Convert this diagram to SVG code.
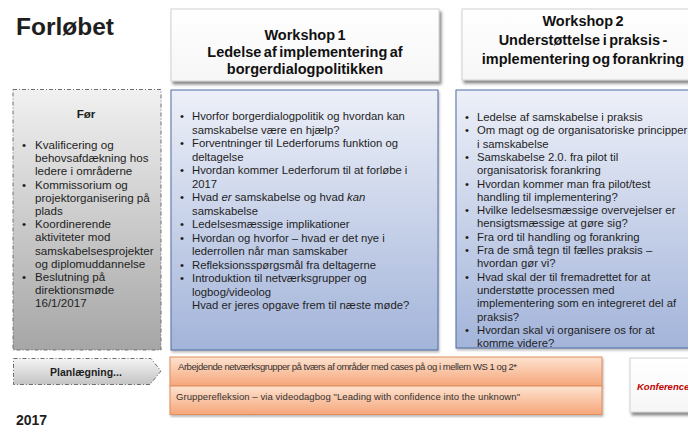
<svg xmlns="http://www.w3.org/2000/svg" width="688" height="427" viewBox="0 0 688 427">
<defs>
<linearGradient id="gBlue" x1="0" y1="0" x2="0" y2="1"><stop offset="0" stop-color="#edf0f8"/><stop offset="1" stop-color="#a3b4da"/></linearGradient>
<linearGradient id="gGrey" x1="0" y1="0" x2="0" y2="1"><stop offset="0" stop-color="#f1f1f1"/><stop offset="1" stop-color="#a6a6a6"/></linearGradient>
<linearGradient id="gArrow" x1="0" y1="0" x2="0" y2="1"><stop offset="0" stop-color="#f4f4f4"/><stop offset="1" stop-color="#c4c4c4"/></linearGradient>
<linearGradient id="gOrange" x1="0" y1="0" x2="0" y2="1"><stop offset="0" stop-color="#fde2cf"/><stop offset="1" stop-color="#f6a67a"/></linearGradient>
<linearGradient id="gHead" x1="0" y1="0" x2="0" y2="1"><stop offset="0" stop-color="#ffffff"/><stop offset="1" stop-color="#f6f6f6"/></linearGradient>
<filter id="shadow" x="-5%" y="-5%" width="115%" height="125%"><feDropShadow dx="2" dy="3" stdDeviation="1.5" flood-color="#555" flood-opacity="0.7"/></filter>
<filter id="soft" x="-5%" y="-5%" width="110%" height="115%"><feDropShadow dx="1" dy="2" stdDeviation="1.2" flood-color="#777" flood-opacity="0.5"/></filter>
</defs>
<style>
text{font-family:"Liberation Sans",Arial,sans-serif;fill:#1e1e1e}
.head{font-size:14.5px;font-weight:bold;text-anchor:middle;word-spacing:-1.5px;fill:#111}
.body{font-size:11.3px}
.fr{font-size:11.6px}
.hbox{fill:url(#gHead);stroke:#d2d2d2;stroke-width:1}
.blue{fill:url(#gBlue);stroke:#4f6ea6;stroke-width:1}
.dash{stroke:#6e6e6e;stroke-width:1;stroke-dasharray:4 2 1 2}
.orange{fill:url(#gOrange);stroke:#e08e5c;stroke-width:1}
.small{font-size:9.5px;fill:#333}
</style>
<rect width="688" height="427" fill="#ffffff"/>

<g id="title"><text x="16" y="35" style="font-size:24.5px;font-weight:bold">Forløbet</text></g>

<g id="ws1-header">
<rect class="hbox" x="171" y="9" width="268" height="72" filter="url(#shadow)"/>
<text class="head" x="305" y="40">Workshop 1</text>
<text class="head" x="305" y="57">Ledelse af implementering af</text>
<text class="head" x="305" y="74">borgerdialogpolitikken</text>
</g>

<g id="ws2-header">
<rect class="hbox" x="462" y="9" width="242" height="71" filter="url(#shadow)"/>
<text class="head" x="583" y="26">Workshop 2</text>
<text class="head" x="583" y="45">Understøttelse i praksis -</text>
<text class="head" x="583" y="64">implementering og forankring</text>
</g>

<g id="foer">
<rect x="13" y="89.5" width="148" height="260.5" fill="url(#gGrey)" class="dash"/>
<text x="86" y="118" style="font-size:11.6px;font-weight:bold;text-anchor:middle">Før</text>
<g class="fr">
<text x="22" y="149">•</text><text x="35" y="149">Kvalificering og</text>
<text x="35" y="162.2">behovsafdækning hos</text>
<text x="35" y="175.4">ledere i områderne</text>
<text x="22" y="188.6">•</text><text x="35" y="188.6">Kommissorium og</text>
<text x="35" y="201.8">projektorganisering på</text>
<text x="35" y="215">plads</text>
<text x="22" y="228.2">•</text><text x="35" y="228.2">Koordinerende</text>
<text x="35" y="241.4">aktiviteter mod</text>
<text x="35" y="254.6">samskabelsesprojekter</text>
<text x="35" y="267.8">og diplomuddannelse</text>
<text x="22" y="281">•</text><text x="35" y="281">Beslutning på</text>
<text x="35" y="294.2">direktionsmøde</text>
<text x="35" y="307.4">16/1/2017</text>
</g>
</g>

<g id="ws1-body">
<rect class="blue" x="171" y="90" width="267" height="260" filter="url(#soft)"/>
<g class="body">
<text x="180" y="120">•</text><text x="192" y="120">Hvorfor borgerdialogpolitik og hvordan kan</text>
<text x="192" y="133.5">samskabelse være en hjælp?</text>
<text x="180" y="147">•</text><text x="192" y="147">Forventninger til Lederforums funktion og</text>
<text x="192" y="160.5">deltagelse</text>
<text x="180" y="174">•</text><text x="192" y="174">Hvordan kommer Lederforum til at forløbe i</text>
<text x="192" y="187.5">2017</text>
<text x="180" y="201">•</text><text x="192" y="201">Hvad <tspan font-style="italic">er</tspan> samskabelse og hvad <tspan font-style="italic">kan</tspan></text>
<text x="192" y="214.5">samskabelse</text>
<text x="180" y="228">•</text><text x="192" y="228">Ledelsesmæssige implikationer</text>
<text x="180" y="241.5">•</text><text x="192" y="241.5">Hvordan og hvorfor – hvad er det nye i</text>
<text x="192" y="255">lederrollen når man samskaber</text>
<text x="180" y="268.5">•</text><text x="192" y="268.5">Refleksionsspørgsmål fra deltagerne</text>
<text x="180" y="282">•</text><text x="192" y="282">Introduktion til netværksgrupper og</text>
<text x="192" y="295.5">logbog/videolog</text>
<text x="192" y="309">Hvad er jeres opgave frem til næste møde?</text>
</g>
</g>

<g id="ws2-body">
<rect class="blue" x="456" y="90" width="250" height="258" filter="url(#soft)"/>
<g class="body">
<text x="465" y="121">•</text><text x="477" y="121">Ledelse af samskabelse i praksis</text>
<text x="465" y="134.3">•</text><text x="477" y="134.3">Om magt og de organisatoriske principper</text>
<text x="477" y="147.6">i samskabelse</text>
<text x="465" y="160.9">•</text><text x="477" y="160.9">Samskabelse 2.0. fra pilot til</text>
<text x="477" y="174.2">organisatorisk forankring</text>
<text x="465" y="187.5">•</text><text x="477" y="187.5">Hvordan kommer man fra pilot/test</text>
<text x="477" y="200.8">handling til implementering?</text>
<text x="465" y="214.1">•</text><text x="477" y="214.1">Hvilke ledelsesmæssige overvejelser er</text>
<text x="477" y="227.4">hensigtsmæssige at gøre sig?</text>
<text x="465" y="240.7">•</text><text x="477" y="240.7">Fra ord til handling og forankring</text>
<text x="465" y="254">•</text><text x="477" y="254">Fra de små tegn til fælles praksis –</text>
<text x="477" y="267.3">hvordan gør vi?</text>
<text x="465" y="280.6">•</text><text x="477" y="280.6">Hvad skal der til fremadrettet for at</text>
<text x="477" y="293.9">understøtte processen med</text>
<text x="477" y="307.2">implementering som en integreret del af</text>
<text x="477" y="320.5">praksis?</text>
<text x="465" y="333.8">•</text><text x="477" y="333.8">Hvordan skal vi organisere os for at</text>
<text x="477" y="347">komme videre?</text>
</g>
</g>

<g id="planlaegning">
<path d="M13.5 358.5 H151 L161 371 L150 384.5 H13.5 Z" fill="url(#gArrow)" class="dash"/>
<text x="86" y="375.5" style="font-size:10.5px;font-weight:bold;text-anchor:middle">Planlægning...</text>
</g>

<g id="netvaerk">
<rect class="orange" x="170" y="357" width="432" height="29" filter="url(#soft)"/>
<text class="small" x="178" y="370" textLength="339" lengthAdjust="spacing">Arbejdende netværksgrupper på tværs af områder med cases på og i mellem WS 1 og 2*</text>
</g>

<g id="refleksion">
<rect class="orange" x="170" y="386" width="432" height="28.5" filter="url(#soft)"/>
<text class="small" x="176" y="400" textLength="344" lengthAdjust="spacing">Grupperefleksion – via videodagbog "Leading with confidence into the unknown"</text>
</g>

<g id="konference">
<rect class="hbox" x="630" y="358" width="72" height="54" filter="url(#shadow)"/>
<text x="637" y="390" style="font-size:9.5px;font-weight:bold;font-style:italic;fill:#c00000">Konference</text>
</g>

<g id="year"><text x="16" y="425" style="font-size:14px;font-weight:bold">2017</text></g>

<g id="connectors"/>
</svg>
